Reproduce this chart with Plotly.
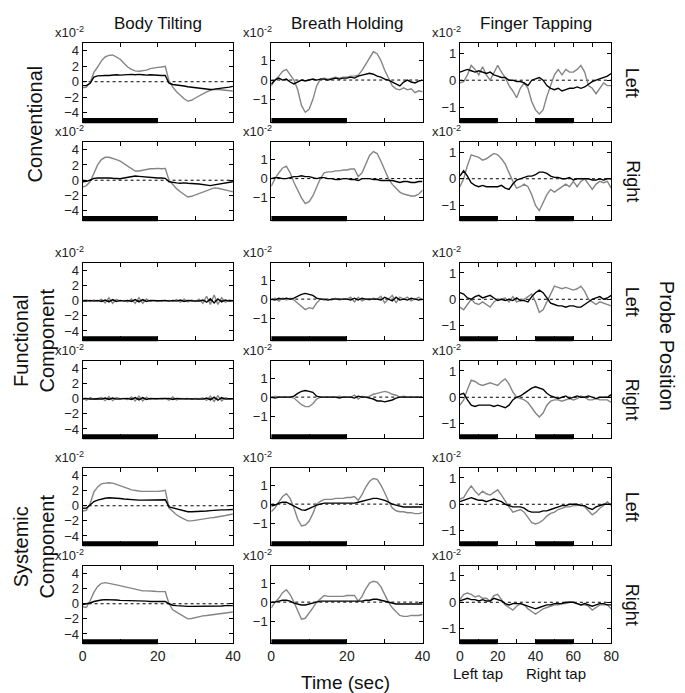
import plotly.graph_objects as go

W, H = 685, 693

# ---------------- time bases ----------------
T40 = list(range(0, 41))          # seconds, body tilting / breath holding
T80 = list(range(0, 81, 2))       # seconds, finger tapping

# ---------------- task periods ----------------
TASK_BT = [(0, 20)]
TASK_BH = [(0, 20)]
TASK_FT = [(0, 20), (40, 60)]

# ---------------- Body Tilting (x10^-2) ----------------
bt_conv_left_gray = [-0.8, -0.7, -0.1, 1.2, 1.9, 2.7, 3.2, 3.4, 3.45, 3.2, 2.9, 2.4, 1.9, 1.6, 1.4, 1.35, 1.4, 1.5, 1.7, 1.8, 1.85,
                     1.9, 2.0, 0.1, -0.7, -1.3, -1.8, -2.2, -2.5, -2.4, -2.1, -1.8, -1.5, -1.3, -1.1, -1.0, -1.0, -1.05, -1.1, -1.15, -1.2]
bt_conv_left_black = [-0.5, -0.5, -0.2, 0.6, 0.75, 0.8, 0.8, 0.8, 0.85, 0.9, 0.85, 0.9, 0.9, 0.95, 0.9, 0.95, 0.9, 0.85, 0.9, 0.85, 0.85,
                      0.8, 0.8, -0.2, -0.35, -0.4, -0.5, -0.55, -0.65, -0.7, -0.75, -0.85, -0.9, -0.95, -1.0, -0.95, -0.9, -0.85, -0.75, -0.7, -0.6]
bt_conv_right_gray = [-0.9, -0.7, -0.2, 1.0, 2.0, 2.7, 3.0, 3.0, 2.9, 2.7, 2.5, 2.2, 1.9, 1.5, 1.2, 1.2, 1.3, 1.4, 1.5, 1.5, 1.55,
                      1.5, 1.55, 0.0, -0.6, -1.1, -1.5, -1.9, -2.2, -2.1, -1.9, -1.7, -1.5, -1.3, -1.1, -1.0, -1.05, -1.2, -1.3, -1.4, -1.5]
bt_conv_right_black = [-0.2, -0.15, 0.0, 0.25, 0.3, 0.3, 0.35, 0.3, 0.25, 0.2, 0.2, 0.3, 0.4, 0.5, 0.55, 0.5, 0.45, 0.4, 0.35, 0.35, 0.3,
                       0.3, 0.25, -0.2, -0.3, -0.35, -0.4, -0.35, -0.4, -0.4, -0.45, -0.5, -0.55, -0.65, -0.7, -0.6, -0.5, -0.4, -0.35, -0.25, -0.2]
bt_func_left_gray = [0.0, 0.1, -0.1, 0.1, -0.1, 0.2, -0.3, 0.4, -0.35, 0.2, -0.05, 0.05, -0.15, 0.25, -0.35, 0.4, -0.35, 0.25, -0.1, 0.05, -0.05,
                     0.05, -0.05, 0.05, -0.1, 0.15, -0.2, 0.2, -0.15, 0.1, -0.1, 0.2, -0.35, 0.6, -0.5, 0.75, -0.5, 0.4, -0.2, 0.1, 0.0]
bt_func_left_black = [0.0, -0.05, 0.05, -0.05, 0.05, -0.1, 0.1, -0.15, 0.15, -0.1, 0.05, -0.05, 0.05, -0.1, 0.15, -0.15, 0.15, -0.1, 0.05, 0.0, 0.0,
                      0.0, 0.05, -0.05, 0.05, -0.05, 0.1, -0.1, 0.05, 0.0, 0.0, -0.05, 0.1, -0.2, 0.25, -0.3, 0.25, -0.15, 0.1, -0.05, 0.0]
bt_func_right_gray = [0.1, -0.2, 0.15, -0.05, 0.05, 0.15, -0.25, 0.3, -0.25, 0.15, 0.0, 0.05, -0.1, 0.25, -0.3, 0.35, -0.3, 0.2, -0.1, 0.05, 0.0,
                      0.0, 0.05, -0.2, 0.25, -0.15, 0.05, 0.0, 0.05, -0.05, 0.05, 0.0, 0.1, -0.2, 0.35, -0.35, 0.4, -0.3, 0.15, -0.05, 0.0]
bt_func_right_black = [0.0, 0.05, -0.05, 0.0, 0.0, -0.05, 0.1, -0.1, 0.1, -0.05, 0.0, 0.0, 0.05, -0.1, 0.15, -0.15, 0.15, -0.1, 0.05, 0.0, 0.0,
                       0.0, 0.0, 0.05, -0.1, 0.05, 0.0, 0.0, 0.0, 0.0, 0.0, 0.0, -0.05, 0.1, -0.15, 0.2, -0.2, 0.15, -0.05, 0.0, 0.0]
bt_sys_left_gray = [-0.7, -0.6, 0.3, 1.8, 2.5, 2.9, 3.0, 3.05, 3.0, 2.85, 2.7, 2.5, 2.3, 2.1, 2.0, 1.95, 1.9, 1.9, 1.85, 1.9, 1.9,
                    1.95, 2.05, -0.3, -0.8, -1.2, -1.5, -1.8, -2.0, -2.0, -1.9, -1.8, -1.75, -1.7, -1.6, -1.55, -1.5, -1.4, -1.3, -1.2, -1.1]
bt_sys_left_black = [-0.35, -0.3, 0.1, 0.55, 0.75, 0.9, 1.0, 1.05, 1.05, 1.0, 0.95, 0.9, 0.85, 0.8, 0.8, 0.75, 0.75, 0.75, 0.75, 0.75, 0.8,
                     0.8, 0.8, -0.15, -0.3, -0.45, -0.6, -0.7, -0.8, -0.8, -0.8, -0.75, -0.7, -0.7, -0.65, -0.6, -0.6, -0.55, -0.55, -0.5, -0.5]
bt_sys_right_gray = [-0.4, -0.5, 0.4, 1.5, 2.3, 2.7, 2.8, 2.75, 2.6, 2.5, 2.4, 2.25, 2.1, 2.0, 1.9, 1.8, 1.7, 1.7, 1.7, 1.65, 1.6,
                     1.6, 1.6, 0.0, -0.8, -1.1, -1.4, -1.7, -2.0, -1.95, -1.8, -1.7, -1.6, -1.55, -1.5, -1.45, -1.4, -1.3, -1.2, -1.15, -1.1]
bt_sys_right_black = [-0.1, -0.05, 0.1, 0.3, 0.45, 0.5, 0.55, 0.55, 0.5, 0.5, 0.45, 0.45, 0.4, 0.4, 0.4, 0.35, 0.35, 0.35, 0.3, 0.3, 0.3,
                      0.3, 0.3, 0.0, -0.2, -0.25, -0.3, -0.35, -0.35, -0.35, -0.35, -0.3, -0.3, -0.3, -0.3, -0.3, -0.3, -0.3, -0.25, -0.25, -0.25]

# ---------------- Breath Holding (x10^-2) ----------------
bh_conv_left_gray = [-0.3, 0.0, 0.2, 0.45, 0.55, 0.3, 0.0, -0.5, -1.3, -1.65, -1.5, -1.0, -0.3, 0.05, 0.1, 0.05, 0.1, 0.15, 0.1, 0.15, 0.15,
                     0.2, 0.2, 0.25, 0.5, 0.8, 1.1, 1.45, 1.35, 1.0, 0.5, 0.1, -0.3, -0.45, -0.5, -0.4, -0.5, -0.45, -0.65, -0.55, -0.6]
bh_conv_left_black = [-0.2, 0.0, 0.1, 0.0, 0.05, -0.1, -0.2, -0.1, 0.0, -0.05, 0.0, 0.05, 0.0, 0.05, 0.05, 0.0, 0.05, 0.1, 0.05, 0.1, 0.1,
                      0.15, 0.1, 0.2, 0.25, 0.3, 0.35, 0.3, 0.2, 0.15, 0.05, 0.0, -0.1, -0.2, -0.3, -0.1, 0.0, -0.1, -0.15, -0.05, 0.0]
bh_conv_right_gray = [-0.4, 0.0, 0.3, 0.55, 0.65, 0.3, -0.2, -0.6, -1.0, -1.3, -1.2, -0.9, -0.4, 0.0, 0.3, 0.35, 0.35, 0.4, 0.4, 0.45, 0.45,
                      0.5, 0.5, 0.1, 0.3, 0.8, 1.2, 1.4, 1.3, 0.9, 0.4, 0.0, -0.3, -0.5, -0.7, -0.8, -0.85, -0.9, -0.9, -0.8, -0.6]
bh_conv_right_black = [0.0, 0.05, 0.05, 0.0, 0.0, 0.05, 0.1, 0.1, 0.15, 0.1, 0.1, 0.05, 0.0, 0.05, 0.05, 0.0, 0.0, -0.05, -0.05, 0.0, 0.0,
                       -0.05, -0.05, -0.1, 0.0, 0.0, 0.0, -0.05, -0.05, -0.1, -0.1, -0.1, -0.1, -0.15, -0.2, -0.15, -0.15, -0.2, -0.2, -0.15, -0.15]
bh_func_left_gray = [-0.05, 0.05, -0.1, 0.05, -0.05, 0.05, -0.05, -0.2, -0.4, -0.55, -0.45, -0.5, -0.2, 0.0, -0.05, 0.0, -0.05, 0.05, -0.05, 0.0, 0.0,
                     0.1, -0.15, 0.1, -0.1, 0.0, -0.05, 0.05, 0.0, 0.15, -0.2, 0.0, 0.2, -0.2, 0.1, 0.0, 0.1, -0.1, 0.0, 0.1, -0.05]
bh_func_left_black = [0.0, -0.05, 0.05, 0.0, 0.05, 0.0, 0.05, 0.15, 0.25, 0.3, 0.25, 0.2, 0.05, 0.0, 0.0, -0.05, 0.0, 0.0, 0.0, 0.0, 0.0,
                      -0.05, 0.05, -0.05, 0.05, 0.0, 0.0, 0.0, 0.0, -0.05, 0.1, 0.0, -0.1, 0.1, -0.05, 0.0, -0.05, 0.05, 0.0, -0.05, 0.0]
bh_func_right_gray = [-0.05, 0.05, 0.0, 0.0, 0.0, 0.0, -0.05, -0.2, -0.4, -0.5, -0.5, -0.35, -0.1, 0.0, 0.0, 0.0, 0.0, 0.0, 0.05, 0.0, 0.0,
                      0.0, 0.1, -0.1, 0.05, 0.0, 0.05, 0.15, 0.2, 0.25, 0.3, 0.25, 0.15, 0.1, 0.0, 0.05, 0.0, 0.0, 0.0, 0.0, 0.0]
bh_func_right_black = [0.0, -0.05, 0.0, 0.0, 0.0, 0.0, 0.05, 0.2, 0.3, 0.35, 0.3, 0.25, 0.05, 0.0, 0.0, 0.0, 0.0, 0.0, -0.05, 0.0, 0.0,
                       0.0, -0.05, 0.05, 0.0, 0.0, -0.05, -0.1, -0.2, -0.2, -0.25, -0.2, -0.15, -0.05, 0.0, 0.0, 0.0, 0.0, 0.0, 0.0, 0.0]
bh_sys_left_gray = [-0.4, -0.2, 0.1, 0.4, 0.55, 0.3, -0.2, -0.8, -1.15, -1.1, -0.9, -0.5, 0.0, 0.15, 0.25, 0.25, 0.25, 0.3, 0.3, 0.3, 0.35,
                    0.35, 0.4, 0.2, 0.5, 0.9, 1.2, 1.35, 1.3, 1.0, 0.6, 0.15, -0.2, -0.35, -0.4, -0.4, -0.45, -0.45, -0.5, -0.5, -0.45]
bh_sys_left_black = [-0.1, -0.05, 0.05, 0.1, 0.1, 0.0, -0.1, -0.2, -0.3, -0.32, -0.25, -0.15, -0.05, 0.0, 0.05, 0.05, 0.05, 0.05, 0.05, 0.05, 0.05,
                     0.05, 0.05, 0.1, 0.15, 0.2, 0.25, 0.3, 0.3, 0.25, 0.2, 0.1, 0.0, -0.05, -0.1, -0.15, -0.15, -0.15, -0.15, -0.15, -0.15]
bh_sys_right_gray = [-0.3, 0.0, 0.2, 0.5, 0.65, 0.4, 0.0, -0.5, -0.9, -0.85, -0.6, -0.3, 0.0, 0.2, 0.35, 0.3, 0.3, 0.3, 0.3, 0.3, 0.35,
                     0.35, 0.35, 0.05, 0.3, 0.7, 1.0, 1.1, 1.05, 0.8, 0.4, 0.0, -0.3, -0.5, -0.7, -0.75, -0.75, -0.7, -0.7, -0.7, -0.65]
bh_sys_right_black = [0.0, 0.0, 0.05, 0.1, 0.1, 0.05, -0.05, -0.1, -0.15, -0.15, -0.1, -0.05, 0.0, 0.05, 0.05, 0.05, 0.05, 0.05, 0.05, 0.05, 0.05,
                      0.05, 0.05, 0.05, 0.05, 0.1, 0.1, 0.15, 0.15, 0.1, 0.05, 0.0, -0.05, -0.1, -0.1, -0.1, -0.1, -0.1, -0.1, -0.1, -0.1]

# ---------------- Finger Tapping (x10^-2), sampled every 2 s ----------------
ft_conv_left_gray = [-0.1, -0.05, 0.2, 0.55, 0.4, 0.2, 0.5, 0.2, 0.0, 0.3, 0.55, 0.3, 0.1, -0.2, -0.4, -0.65, -0.3, -0.1, -0.3, -0.8, -1.1,
                     -1.25, -1.1, -0.6, -0.2, 0.2, 0.4, 0.2, 0.4, 0.3, 0.3, 0.4, 0.55, 0.3, -0.2, -0.3, -0.5, -0.3, -0.1, -0.2, -0.2]
ft_conv_left_black = [0.3, 0.35, 0.4, 0.35, 0.3, 0.35, 0.3, 0.25, 0.3, 0.2, 0.15, 0.1, 0.1, 0.0, 0.0, -0.05, -0.05, -0.1, -0.2, 0.0, 0.05,
                      0.1, 0.0, -0.2, -0.3, -0.35, -0.3, -0.4, -0.35, -0.3, -0.3, -0.25, -0.3, -0.25, -0.15, -0.05, 0.0, 0.05, 0.1, 0.15, 0.25]
ft_conv_right_gray = [-0.3, 0.0, 0.5, 0.9, 0.85, 0.8, 0.7, 0.75, 0.85, 0.95, 0.9, 0.75, 0.55, 0.2, -0.1, -0.35, -0.3, -0.2, -0.3, -0.6, -1.0,
                      -1.2, -0.9, -0.6, -0.4, -0.5, -0.4, -0.3, -0.2, -0.3, -0.1, -0.3, -0.1, 0.0, -0.2, -0.4, -0.2, -0.1, -0.15, -0.1, -0.35]
ft_conv_right_black = [0.1, 0.3, 0.1, -0.15, -0.25, -0.3, -0.25, -0.3, -0.3, -0.3, -0.3, -0.25, -0.35, -0.4, -0.2, -0.05, 0.0, 0.05, 0.1, 0.1, 0.15,
                       0.25, 0.25, 0.2, 0.1, 0.05, 0.05, 0.0, 0.0, 0.05, -0.05, 0.0, 0.0, 0.0, 0.0, -0.05, -0.05, 0.0, -0.05, 0.0, 0.0]
ft_func_left_gray = [-0.3, -0.4, -0.2, 0.0, -0.15, -0.2, -0.1, -0.2, -0.3, -0.1, 0.0, 0.0, 0.05, -0.1, 0.1, -0.1, -0.05, 0.0, 0.1, 0.2, -0.1,
                     -0.5, -0.4, -0.1, 0.2, 0.5, 0.45, 0.4, 0.45, 0.4, 0.35, 0.4, 0.5, 0.3, 0.0, -0.1, -0.2, -0.1, -0.15, -0.2, -0.25]
ft_func_left_black = [0.25, 0.2, 0.05, 0.0, 0.1, 0.15, 0.05, 0.1, 0.15, 0.05, -0.05, 0.0, -0.05, 0.0, -0.05, 0.05, -0.05, -0.05, -0.1, 0.1, 0.25,
                      0.35, 0.25, 0.05, -0.15, -0.2, -0.25, -0.25, -0.3, -0.25, -0.25, -0.3, -0.3, -0.2, -0.1, 0.0, 0.05, 0.1, 0.0, 0.05, 0.15]
ft_func_right_gray = [-0.3, -0.1, 0.3, 0.65, 0.6, 0.5, 0.45, 0.5, 0.55, 0.5, 0.45, 0.6, 0.7, 0.5, 0.2, 0.0, -0.05, -0.1, -0.2, -0.4, -0.6,
                      -0.75, -0.6, -0.3, -0.15, -0.1, -0.1, -0.15, -0.1, -0.05, -0.1, -0.05, 0.05, 0.0, -0.1, -0.1, -0.05, -0.1, -0.1, -0.1, -0.2]
ft_func_right_black = [0.1, 0.15, -0.1, -0.3, -0.35, -0.3, -0.3, -0.3, -0.3, -0.35, -0.3, -0.35, -0.4, -0.3, -0.1, 0.0, 0.05, 0.15, 0.25, 0.35, 0.4,
                       0.35, 0.3, 0.15, 0.05, 0.0, -0.05, 0.0, 0.05, -0.05, 0.0, 0.05, 0.0, 0.0, 0.05, 0.0, -0.05, 0.0, 0.0, 0.0, 0.1]
ft_sys_left_gray = [0.2, 0.25, 0.5, 0.7, 0.5, 0.35, 0.5, 0.4, 0.35, 0.45, 0.55, 0.35, 0.1, -0.1, -0.3, -0.25, -0.2, -0.3, -0.5, -0.7, -0.75,
                    -0.7, -0.6, -0.45, -0.35, -0.3, -0.2, -0.15, -0.1, -0.1, -0.05, -0.05, 0.0, -0.1, -0.25, -0.4, -0.3, -0.15, -0.05, 0.1, -0.05]
ft_sys_left_black = [0.1, 0.15, 0.2, 0.25, 0.2, 0.15, 0.15, 0.1, 0.15, 0.2, 0.15, 0.1, 0.0, -0.05, -0.1, -0.1, -0.1, -0.15, -0.25, -0.3, -0.3,
                     -0.3, -0.25, -0.25, -0.2, -0.15, -0.1, -0.05, -0.05, 0.0, 0.0, 0.0, -0.05, -0.05, -0.15, -0.2, -0.1, -0.05, 0.0, 0.0, 0.0]
ft_sys_right_gray = [0.1, 0.3, 0.35, 0.3, 0.2, 0.25, 0.15, 0.15, 0.05, 0.25, 0.3, 0.1, -0.1, -0.2, -0.3, -0.15, -0.05, -0.1, -0.25, -0.35, -0.45,
                     -0.35, -0.25, -0.2, -0.15, -0.1, -0.1, -0.05, -0.05, 0.0, 0.0, -0.05, -0.1, -0.1, -0.15, -0.3, -0.2, -0.1, -0.1, -0.1, -0.25]
ft_sys_right_black = [0.05, 0.1, 0.15, 0.1, 0.1, 0.05, 0.1, 0.05, 0.05, 0.15, 0.1, 0.05, -0.05, -0.1, -0.05, -0.05, -0.05, -0.1, -0.15, -0.2, -0.25,
                      -0.2, -0.15, -0.1, -0.1, -0.05, -0.05, -0.05, 0.0, 0.0, 0.0, -0.05, -0.1, -0.05, -0.1, -0.15, -0.1, -0.05, -0.05, -0.1, -0.1]

# ---------------- labels ----------------
COLUMN_TITLES = ["Body Tilting", "Breath Holding", "Finger Tapping"]
ROW_GROUP_LABELS = ["Conventional", "Functional<br>Component", "Systemic<br>Component"]
SIDE_LABELS = ["Left", "Right"]
Y_TICKS = [[-4, -2, 0, 2, 4], [-1, 0, 1], [-1, 0, 1]]
X_MAJOR = [[0, 20, 40], [0, 20, 40], [0, 20, 40, 60, 80]]
X_MINOR = [[10, 30], [10, 30], [10, 30, 50, 70]]

# panel data, [row][col] -> (gray, black)
PANELS = [
    [(bt_conv_left_gray, bt_conv_left_black), (bh_conv_left_gray, bh_conv_left_black), (ft_conv_left_gray, ft_conv_left_black)],
    [(bt_conv_right_gray, bt_conv_right_black), (bh_conv_right_gray, bh_conv_right_black), (ft_conv_right_gray, ft_conv_right_black)],
    [(bt_func_left_gray, bt_func_left_black), (bh_func_left_gray, bh_func_left_black), (ft_func_left_gray, ft_func_left_black)],
    [(bt_func_right_gray, bt_func_right_black), (bh_func_right_gray, bh_func_right_black), (ft_func_right_gray, ft_func_right_black)],
    [(bt_sys_left_gray, bt_sys_left_black), (bh_sys_left_gray, bh_sys_left_black), (ft_sys_left_gray, ft_sys_left_black)],
    [(bt_sys_right_gray, bt_sys_right_black), (bh_sys_right_gray, bh_sys_right_black), (ft_sys_right_gray, ft_sys_right_black)],
]
TIMES = [T40, T40, T80]
TASKS = [TASK_BT, TASK_BH, TASK_FT]

# ---------------- layout geometry (pixels) ----------------
COL_PX = [(80, 233), (272, 426), (464, 618)]
ROW_PX = [(43, 122), (142, 220), (263, 340), (361, 438), (468, 545), (566, 643)]
Y_RANGES = [[-5.2, 5.0], [-2.15, 1.9], [-1.55, 1.38]]
X_RANGES = [[0, 40], [0, 40], [0, 80]]

FONT = "Liberation Sans, Arial, Helvetica, sans-serif"
GRAY = "#858585"

def px(x):
    return x / W

def py(y):
    return 1 - y / H

fig = go.Figure()
layout = dict(
    width=W, height=H, margin=dict(l=0, r=0, t=0, b=0),
    paper_bgcolor="white", plot_bgcolor="white", showlegend=False,
    font=dict(family=FONT, color="#111111"),
)
shapes = []
annotations = []

for r in range(6):
    for c in range(3):
        n = r * 3 + c + 1
        xa = "x" if n == 1 else f"x{n}"
        ya = "y" if n == 1 else f"y{n}"
        xkey = "xaxis" if n == 1 else f"xaxis{n}"
        ykey = "yaxis" if n == 1 else f"yaxis{n}"
        gray, black = PANELS[r][c]
        t = TIMES[c]
        fig.add_trace(go.Scatter(x=t, y=gray, mode="lines", xaxis=xa, yaxis=ya,
                                 line=dict(color=GRAY, width=1.4), hoverinfo="skip"))
        fig.add_trace(go.Scatter(x=t, y=black, mode="lines", xaxis=xa, yaxis=ya,
                                 line=dict(color="black", width=1.4), hoverinfo="skip"))
        bottom = (r == 5)
        layout[xkey] = dict(
            domain=[px(COL_PX[c][0]), px(COL_PX[c][1])], anchor=ya, range=X_RANGES[c],
            showline=True, linecolor="black", linewidth=1, mirror="ticks",
            ticks="inside", ticklen=4, tickwidth=1, tickcolor="black",
            tickmode="array", tickvals=X_MAJOR[c],
            minor=dict(tickmode="array", tickvals=X_MINOR[c], ticks="inside", ticklen=4,
                       tickwidth=1, tickcolor="black", showgrid=False),
            showticklabels=bottom, showgrid=False, zeroline=False,
            tickfont=dict(size=14, family=FONT, color="#222222"),
        )
        layout[ykey] = dict(
            domain=[py(ROW_PX[r][1]), py(ROW_PX[r][0])], anchor=xa, range=Y_RANGES[c],
            showline=True, linecolor="black", linewidth=1, mirror="ticks",
            ticks="inside", ticklen=4, tickwidth=1, tickcolor="black",
            tickmode="array", tickvals=Y_TICKS[c], showgrid=False, zeroline=False,
            tickfont=dict(size=13, family=FONT, color="#222222"),
        )
        # zero reference line
        shapes.append(dict(type="line", xref=xa, yref=ya, x0=X_RANGES[c][0], x1=X_RANGES[c][1],
                           y0=0, y1=0, line=dict(color="black", width=1, dash="dot"), layer="below"))
        # task bars
        for (a, b) in TASKS[c]:
            shapes.append(dict(type="rect", xref=xa, yref=f"{ya} domain", x0=a, x1=b,
                               y0=-0.015, y1=0.05, fillcolor="black", line=dict(width=0)))
        # x10^-2 label
        annotations.append(dict(text="x10<sup>-2</sup>", xref="paper", yref="paper",
                                x=px(COL_PX[c][0] + 3), y=py(ROW_PX[r][0] - 1),
                                xanchor="right", yanchor="bottom", showarrow=False,
                                font=dict(size=13, family=FONT, color="#222222")))

# column titles
for c in range(3):
    annotations.append(dict(text=COLUMN_TITLES[c], xref="paper", yref="paper",
                            x=px((COL_PX[c][0] + COL_PX[c][1]) / 2), y=py(23),
                            xanchor="center", yanchor="middle", showarrow=False,
                            font=dict(size=17, family=FONT, color="#111111")))

# row group labels (left)
GROUP_CENTERS = [124, 340, 546]
GROUP_X = [32, 31, 31]
for g in range(3):
    annotations.append(dict(text=ROW_GROUP_LABELS[g], xref="paper", yref="paper",
                            x=px(GROUP_X[g]), y=py(GROUP_CENTERS[g]), textangle=-90,
                            xanchor="center", yanchor="middle", showarrow=False,
                            font=dict(size=20, family=FONT, color="#111111")))

# side labels (Left / Right)
for r in range(6):
    annotations.append(dict(text=SIDE_LABELS[r % 2], xref="paper", yref="paper",
                            x=px(640), y=py((ROW_PX[r][0] + ROW_PX[r][1]) / 2), textangle=90,
                            xanchor="center", yanchor="middle", showarrow=False,
                            font=dict(size=18, family=FONT, color="#111111")))

annotations.append(dict(text="Probe Position", xref="paper", yref="paper",
                        x=px(675), y=py(346), textangle=90, xanchor="center", yanchor="middle",
                        showarrow=False, font=dict(size=20, family=FONT, color="#111111")))
annotations.append(dict(text="Time (sec)", xref="paper", yref="paper",
                        x=px(348), y=py(682), xanchor="center", yanchor="middle",
                        showarrow=False, font=dict(size=19, family=FONT, color="#111111")))
annotations.append(dict(text="Left tap", xref="paper", yref="paper",
                        x=px(482), y=py(673), xanchor="center", yanchor="middle",
                        showarrow=False, font=dict(size=15, family=FONT, color="#111111")))
annotations.append(dict(text="Right tap", xref="paper", yref="paper",
                        x=px(562), y=py(673), xanchor="center", yanchor="middle",
                        showarrow=False, font=dict(size=15, family=FONT, color="#111111")))

layout["shapes"] = shapes
layout["annotations"] = annotations
fig.update_layout(**layout)
fig.write_html("out.html", config={"displayModeBar": False},
               post_script="document.body.style.margin='0px';document.body.style.overflow='hidden';")
